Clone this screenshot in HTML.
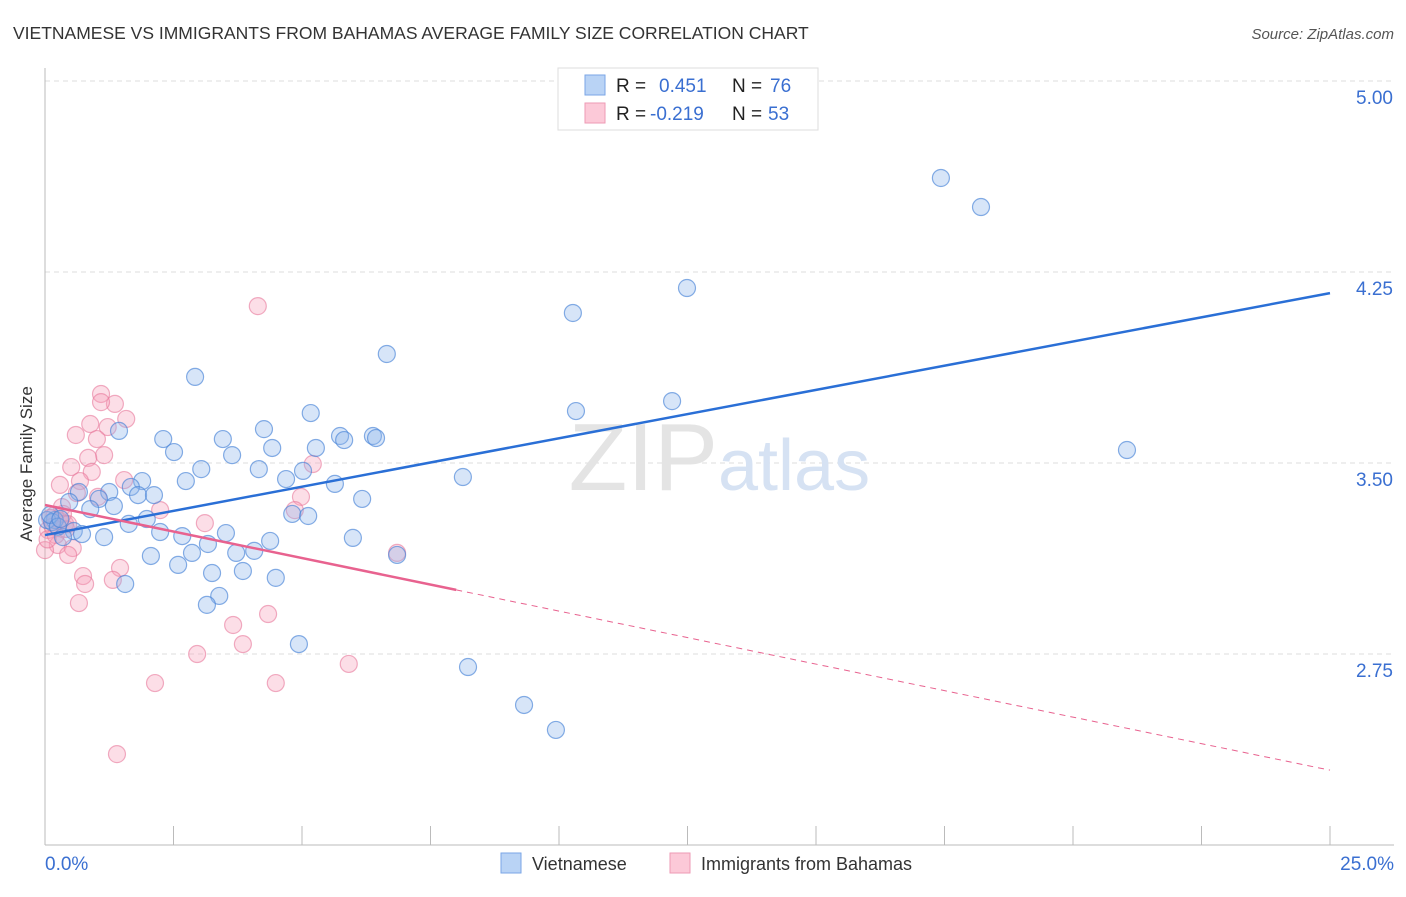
<!DOCTYPE html>
<html><head><meta charset="utf-8"><style>
body{margin:0;background:#fff;font-family:"Liberation Sans",sans-serif}
svg text{font-family:"Liberation Sans",sans-serif}
</style></head><body>
<svg width="1406" height="892" viewBox="0 0 1406 892">
<text x="13" y="39" font-size="17.5" fill="#333">VIETNAMESE VS IMMIGRANTS FROM BAHAMAS AVERAGE FAMILY SIZE CORRELATION CHART</text>
<text x="1394" y="39" font-size="15" fill="#555" font-style="italic" text-anchor="end">Source: ZipAtlas.com</text>
<g id="grid"></g>
<text x="718" y="490" font-size="96" fill="#e4e4e4" text-anchor="end" font-family="Liberation Serif">ZIP</text>
<text x="718" y="490" font-size="72" fill="#d6e2f3">atlas</text>
<g id="axes"></g>
<g id="pts"></g>
<g id="trend"></g>
<text x="24" y="456" font-size="17" fill="#333" transform="rotate(-90 32 456)" text-anchor="middle">Average Family Size</text>
<g>
<rect x="558" y="68" width="260" height="62" fill="#fff" stroke="#ddd"/>
<rect x="585" y="75" width="20" height="20" fill="#b9d3f5" stroke="#7aa6e6"/>
<rect x="585" y="103" width="20" height="20" fill="#fcc9d8" stroke="#ee9ab4"/>
<text x="616" y="92" font-size="19" fill="#222">R = </text><text x="659" y="92" font-size="19" fill="#3a6fd1">0.451</text>
<text x="732" y="92" font-size="19" fill="#222">N = </text><text x="770" y="92" font-size="19" fill="#3a6fd1">76</text>
<text x="616" y="120" font-size="19" fill="#222">R = </text><text x="650" y="120" font-size="19" fill="#3a6fd1">-0.219</text>
<text x="732" y="120" font-size="19" fill="#222">N = </text><text x="768" y="120" font-size="19" fill="#3a6fd1">53</text>
</g>
<g>
<rect x="501" y="853" width="20" height="20" fill="#b9d3f5" stroke="#7aa6e6"/>
<text x="532" y="870" font-size="18" fill="#333">Vietnamese</text>
<rect x="670" y="853" width="20" height="20" fill="#fcc9d8" stroke="#ee9ab4"/>
<text x="701" y="870" font-size="18" fill="#333">Immigrants from Bahamas</text>
</g>
</svg>
<script>
const yTicks=[5.00,4.25,3.50,2.75];
const yTickLabels=["5.00","4.25","3.50","2.75"];
const xTickLabels=["0.0%","25.0%"];
const blueX=[17.43,18.21,12.49,10.27,6.65,2.92,12.20,10.33,5.17,4.26,1.44,2.30,3.46,5.74,5.82,6.38,6.44,21.05,2.51,4.42,5.27,3.64,3.04,4.16,5.02,8.13,2.74,1.89,4.69,5.64,1.67,0.66,1.25,1.81,2.12,1.05,6.17,0.47,1.34,0.88,4.81,5.12,1.98,1.63,0.19,0.04,0.56,2.24,0.72,3.52,2.67,1.15,0.35,5.99,3.17,4.38,3.72,2.86,4.07,2.06,6.85,2.59,3.85,3.25,4.49,1.56,3.39,3.15,4.94,8.23,9.32,9.94,0.14,0.10,0.25,0.30];
const blueY=[4.619,4.505,4.187,4.089,3.928,3.838,3.743,3.704,3.696,3.633,3.626,3.594,3.594,3.606,3.590,3.606,3.598,3.551,3.543,3.559,3.559,3.531,3.476,3.476,3.469,3.445,3.429,3.429,3.437,3.418,3.406,3.386,3.386,3.374,3.374,3.359,3.359,3.347,3.331,3.319,3.300,3.292,3.280,3.261,3.276,3.276,3.233,3.229,3.221,3.225,3.213,3.209,3.209,3.206,3.182,3.194,3.147,3.147,3.155,3.135,3.139,3.100,3.076,3.068,3.049,3.025,2.978,2.943,2.789,2.699,2.550,2.452,3.268,3.296,3.250,3.280];
const pinkX=[4.14,1.09,1.36,1.09,1.58,0.88,1.22,0.60,1.01,1.15,0.84,0.51,5.21,0.91,1.54,0.68,0.29,4.98,1.03,0.62,2.24,0.33,4.86,3.11,0.19,0.10,0.29,0.39,0.06,0.21,0.41,0.25,0.00,0.54,0.45,6.85,1.46,0.74,1.32,0.78,0.66,4.34,3.66,3.85,2.96,5.91,2.14,4.49,1.40,0.15,0.35,0.05,0.45];
const pinkY=[4.116,3.771,3.732,3.739,3.673,3.653,3.641,3.610,3.594,3.531,3.520,3.484,3.496,3.465,3.433,3.429,3.414,3.367,3.367,3.382,3.315,3.327,3.315,3.264,3.296,3.284,3.272,3.261,3.237,3.217,3.241,3.178,3.158,3.166,3.139,3.147,3.088,3.056,3.041,3.025,2.950,2.907,2.864,2.789,2.750,2.711,2.636,2.636,2.357,3.250,3.300,3.200,3.260];
const blueTrend=[3.217,4.167];
const pinkTrend=[3.335,2.294];
const pinkSolidEnd=8.0;
const X0=45,X1=1330,Y350=463,PPU=254.7;
const sx=v=>X0+(X1-X0)*v/25;
const sy=v=>Y350-(v-3.5)*PPU;
const NS="http://www.w3.org/2000/svg";
function mk(t,a,p){const e=document.createElementNS(NS,t);for(const k in a)e.setAttribute(k,a[k]);p.appendChild(e);return e;}
const grid=document.getElementById('grid'),axes=document.getElementById('axes'),pts=document.getElementById('pts'),tr=document.getElementById('trend');
yTicks.forEach((v,i)=>{
 const l=mk('line',{x1:45,x2:1394,y1:sy(v),y2:sy(v),stroke:'#ddd','stroke-dasharray':'5,4'},grid);
 
 
 const t=mk('text',{x:1393,y:sy(v)+23,'font-size':19,fill:'#3a6fd1','text-anchor':'end'},axes);
 t.textContent=yTickLabels[i];
 
 
});
const ax=mk('line',{x1:45,x2:1394,y1:845,y2:845,stroke:'#bbb'},axes);


const ay=mk('line',{x1:45,x2:45,y1:68,y2:845,stroke:'#bbb'},axes);


for(let i=0;i<=10;i++){
 const t=mk('line',{x1:sx(i*2.5),x2:sx(i*2.5),y1:826,y2:845,stroke:'#bbb'},axes);
 
 
}
const xl0=mk('text',{x:45,y:870,'font-size':19,fill:'#3a6fd1'},axes);xl0.textContent=xTickLabels[0];


const xl1=mk('text',{x:1394,y:870,'font-size':19,fill:'#3a6fd1','text-anchor':'end'},axes);xl1.textContent=xTickLabels[1];


pinkX.forEach((x,i)=>{
 const c=mk('circle',{cx:sx(x),cy:sy(pinkY[i]),r:8.5,fill:'rgba(247,160,185,0.35)',stroke:'rgba(232,120,155,0.6)','stroke-width':1.2},pts);
 
 
});
blueX.forEach((x,i)=>{
 const c=mk('circle',{cx:sx(x),cy:sy(blueY[i]),r:8.5,fill:'rgba(140,180,235,0.35)',stroke:'rgba(70,130,215,0.65)','stroke-width':1.2},pts);
 
 
});
const bt=mk('line',{x1:sx(0),y1:sy(blueTrend[0]),x2:sx(25),y2:sy(blueTrend[1]),stroke:'#2a6fd6','stroke-width':2.5},tr);


const pe=pinkTrend[0]+(pinkTrend[1]-pinkTrend[0])*pinkSolidEnd/25;
const pt=mk('line',{x1:sx(0),y1:sy(pinkTrend[0]),x2:sx(pinkSolidEnd),y2:sy(pe),stroke:'#e8628f','stroke-width':2.5},tr);


const pd=mk('line',{x1:sx(pinkSolidEnd),y1:sy(pe),x2:sx(25),y2:sy(pinkTrend[1]),stroke:'#e8628f','stroke-width':1,'stroke-dasharray':'6,5'},tr);


</script>
</body></html>
